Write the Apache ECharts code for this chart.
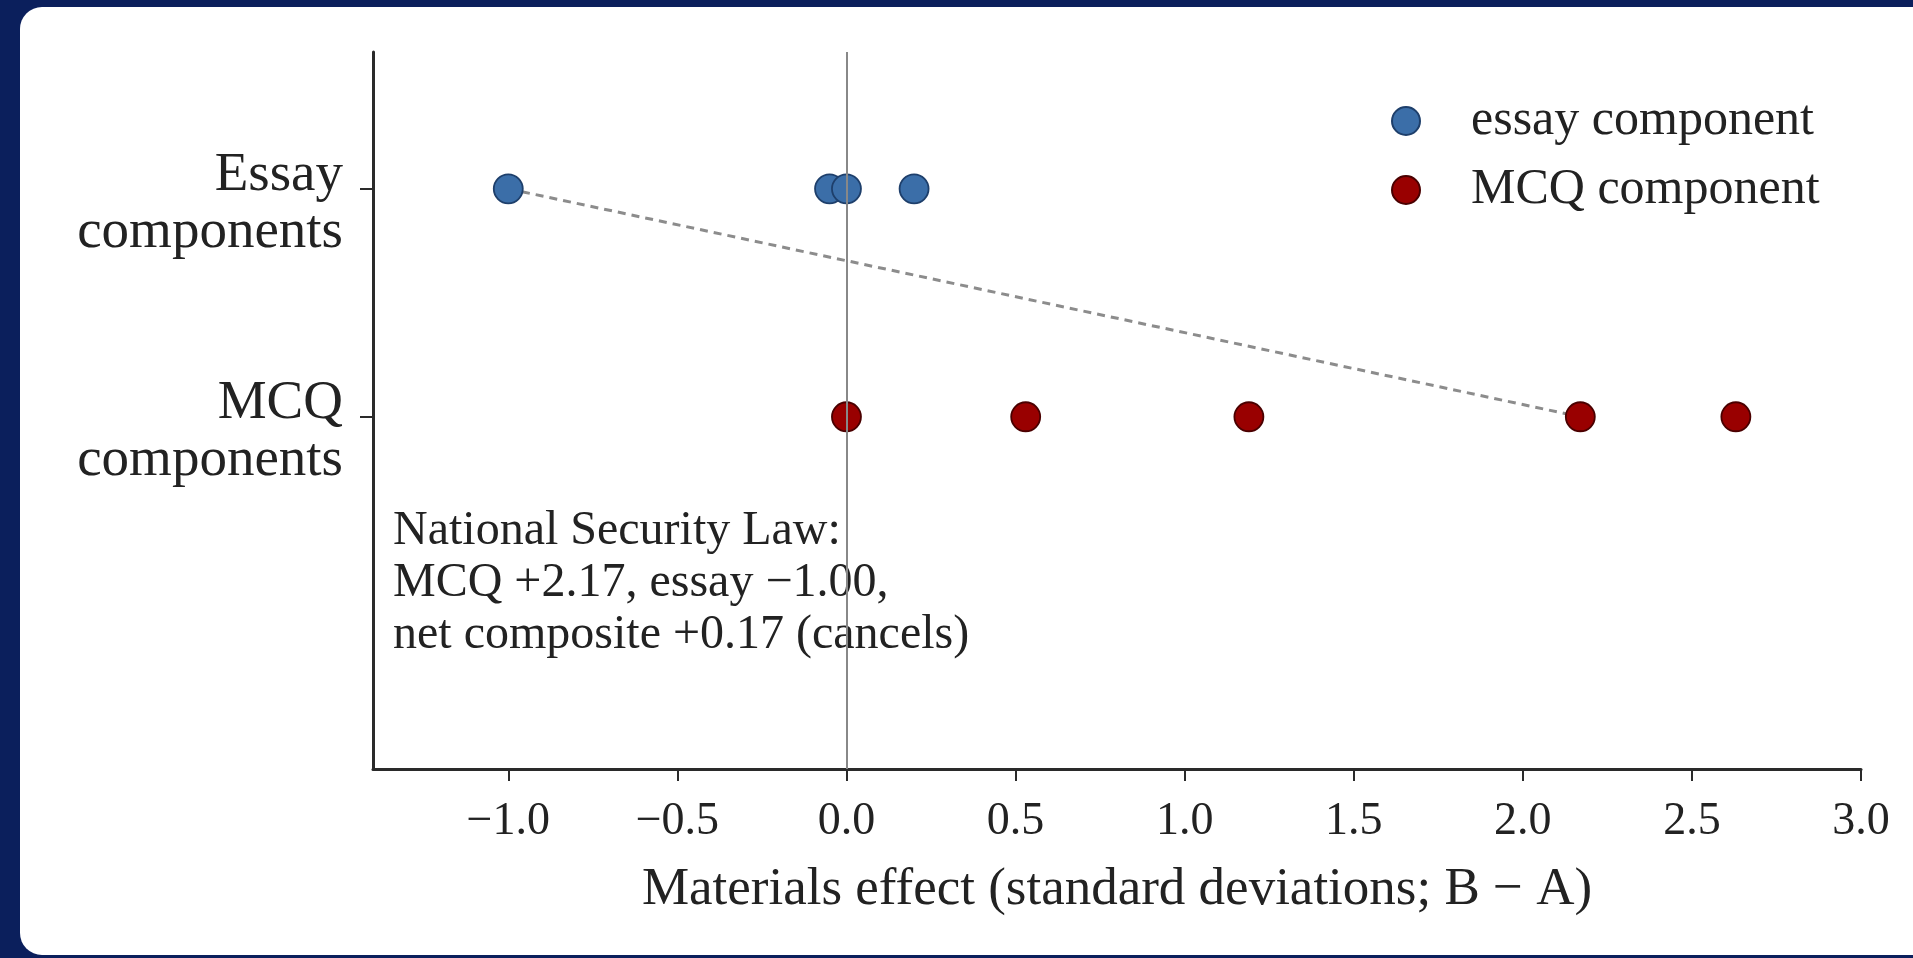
<!DOCTYPE html>
<html>
<head>
<meta charset="utf-8">
<script src="https://cdn.jsdelivr.net/npm/echarts@6/dist/echarts.min.js"></script>
<style>
  html, body { margin: 0; padding: 0; width: 1913px; height: 958px; overflow: hidden; background: #0b1f5c; }
  #card { position: absolute; left: 20px; top: 7px; width: 1920px; height: 948px; background: #ffffff; border-radius: 22px; }
  #chart { position: absolute; left: 0; top: 0; width: 1913px; height: 958px; }
</style>
</head>
<body>
<div id="card"></div>
<div id="chart"></div>
<script>
// ---- data ----
const yCategories = ['MCQ\ncomponents', 'Essay\ncomponents']; // y = 0, y = 1
const essayValues = [-1.00, -0.05, 0.00, 0.20];
const mcqValues = [0.00, 0.53, 1.19, 2.17, 2.63];
const xTicks = [-1.0, -0.5, 0.0, 0.5, 1.0, 1.5, 2.0, 2.5, 3.0];
const yTicks = [0, 1];
const nslEssay = -1.00;   // National Security Law essay effect
const nslMcq = 2.17;      // National Security Law MCQ effect
const seriesNames = ['essay component', 'MCQ component'];
const annotationLines = ['National Security Law:', 'MCQ +2.17, essay \u22121.00,', 'net composite +0.17 (cancels)'];

const FONT = 'Liberation Serif';
const BLUE = '#3b6ea8', BLUE_EDGE = '#1e3f6b';
const RED = '#990000', RED_EDGE = '#4a0000';

const chart = echarts.init(document.getElementById('chart'), null, { renderer: 'canvas' });

const fmtX = v => (v < 0 ? '\u2212' : '') + Math.abs(v).toFixed(1);
const fmtY = v => '{s| }\n' + yCategories[Math.round(v)].split('\n').map(t => '{a|' + t + '}').join('\n');

const option = {
  animation: false,
  backgroundColor: 'transparent',
  textStyle: { fontFamily: FONT, color: '#222' },
  grid: { left: 373, top: 52, width: 1488, height: 717, containLabel: false },
  xAxis: {
    type: 'value',
    min: -1.4,
    max: 3.0,
    splitLine: { show: false },
    axisLine: { show: true, onZero: false, lineStyle: { color: '#2a2a2a', width: 3 } },
    axisTick: { show: true, customValues: xTicks, length: 12, lineStyle: { color: '#2a2a2a', width: 2 } },
    axisLabel: { customValues: xTicks, formatter: fmtX, fontFamily: FONT, fontSize: 46, color: '#222', margin: 30 },
    name: 'Materials effect (standard deviations; B \u2212 A)',
    nameLocation: 'middle',
    nameGap: 95,
    nameTextStyle: { fontFamily: FONT, fontSize: 53, color: '#222', verticalAlign: 'top' }
  },
  yAxis: {
    type: 'value',
    min: -1.545,
    max: 1.6,
    splitLine: { show: false },
    axisLine: { show: true, onZero: false, lineStyle: { color: '#2a2a2a', width: 3 } },
    axisTick: { show: true, customValues: yTicks, length: 13, lineStyle: { color: '#2a2a2a', width: 2 } },
    axisLabel: {
      customValues: yTicks,
      formatter: fmtY,
      fontFamily: FONT, fontSize: 55, lineHeight: 57, color: '#222', margin: 30, align: 'right',
      rich: {
        s: { fontSize: 4, lineHeight: 30 },
        a: { fontFamily: FONT, fontSize: 55, lineHeight: 57, color: '#222', align: 'right' }
      }
    }
  },
  legend: {
    orient: 'vertical',
    left: 1391,
    top: 96,
    padding: 0,
    itemWidth: 28,
    itemHeight: 28,
    itemGap: 19,
    icon: 'circle',
    data: seriesNames,
    textStyle: { fontFamily: FONT, fontSize: 50, color: '#222', padding: [0, 0, 0, 46] }
  },
  graphic: [{
    type: 'text',
    left: 393,
    top: 505,
    silent: true,
    z: 2,
    style: {
      text: annotationLines.join('\n'),
      font: '48px "Liberation Serif"',
      lineHeight: 52,
      fill: '#222'
    }
  }],
  series: [
    {
      name: 'connector',
      type: 'line',
      z: 1,
      symbol: 'none',
      silent: true,
      data: [[nslEssay, 1], [nslMcq, 0]],
      lineStyle: { color: '#8c8c8c', width: 3, type: [8, 6] },
      markLine: {
        silent: true,
        symbol: ['none', 'none'],
        label: { show: false },
        lineStyle: { color: '#888', width: 2, type: 'solid' },
        data: [{ xAxis: 0 }]
      }
    },
    {
      name: seriesNames[0],
      type: 'scatter',
      z: 3,
      symbol: 'circle',
      symbolSize: 29,
      data: essayValues.map(v => [v, 1]),
      itemStyle: { color: BLUE, borderColor: BLUE_EDGE, borderWidth: 1.8, opacity: 1 }
    },
    {
      name: seriesNames[1],
      type: 'scatter',
      z: 3,
      symbol: 'circle',
      symbolSize: 29,
      data: mcqValues.map(v => [v, 0]),
      itemStyle: { color: RED, borderColor: RED_EDGE, borderWidth: 1.8, opacity: 1 }
    }
  ]
};
chart.setOption(option);
</script>
</body>
</html>
